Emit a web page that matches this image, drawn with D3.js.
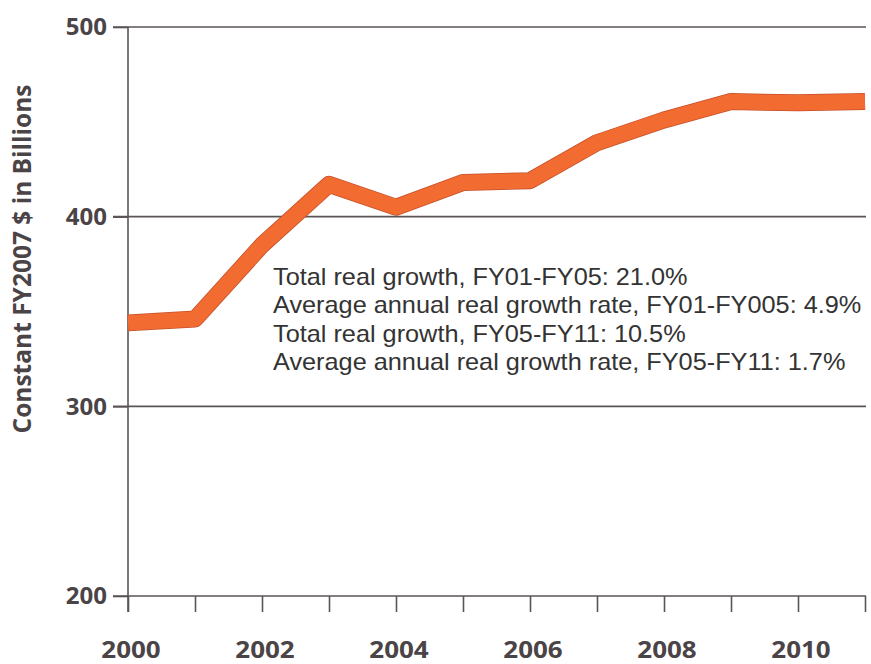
<!DOCTYPE html>
<html><head><meta charset="utf-8">
<script src="https://cdn.jsdelivr.net/npm/d3@7"></script>
<style>body{margin:0;background:#fff}svg{display:block}</style>
</head><body>
<svg id="c" width="871" height="664"></svg>
<script>
const years = [2000,2001,2002,2003,2004,2005,2006,2007,2008,2009,2010,2011];
const values = [344,346,385,417,405,418,419,439,451,460.7,460,460.7];
const yTicks = [200,300,400,500];
const gridTicks = [300,400,500];
const xLabels = [2000,2002,2004,2006,2008,2010];
const notes = [
  "Total real growth, FY01-FY05: 21.0%",
  "Average annual real growth rate, FY01-FY005: 4.9%",
  "Total real growth, FY05-FY11: 10.5%",
  "Average annual real growth rate, FY05-FY11: 1.7%"
];
const yTitle = "Constant FY2007 $ in Billions";

const svg = d3.select("#c");
const x = d3.scaleLinear().domain([2000,2011]).range([128,865]);
const y = d3.scaleLinear().domain([200,500]).range([596,27]);
const axisCol = "#5a5456", textCol = "#4b4447";

// gridlines
svg.append("g").selectAll("line").data(gridTicks).join("line")
  .attr("x1",113).attr("x2",866).attr("y1",d=>y(d)).attr("y2",d=>y(d))
  .attr("stroke",axisCol).attr("stroke-width",1.6);

// y axis
const ya = svg.append("g").attr("transform","translate(128,0)")
  .call(d3.axisLeft(y).tickValues(yTicks).tickSize(15).tickPadding(6));
ya.select(".domain").remove();
ya.selectAll(".tick line").attr("stroke",axisCol).attr("stroke-width",1.6);
ya.selectAll(".tick text").attr("fill",textCol)
  .style("font-family","'Open Sans'").style("font-weight","bold").style("font-size","24px");
svg.append("line").attr("x1",128).attr("x2",128).attr("y1",y(500)).attr("y2",612)
  .attr("stroke",axisCol).attr("stroke-width",1.6);

// x axis
const xa = svg.append("g").attr("transform","translate(0,"+y(200)+")")
  .call(d3.axisBottom(x).tickValues(years).tickSize(16).tickFormat(""));
xa.select(".domain").remove();
xa.selectAll(".tick line").attr("stroke",axisCol).attr("stroke-width",1.6);
svg.append("line").attr("x1",113).attr("x2",866).attr("y1",y(200)).attr("y2",y(200))
  .attr("stroke",axisCol).attr("stroke-width",1.6);
svg.append("g").selectAll("text").data(xLabels).join("text")
  .attr("transform",d=>"translate("+(x(d)+3)+",658) scale(1.13,1)")
  .attr("text-anchor","middle")
  .attr("fill",textCol).style("font-family","'Open Sans'").style("font-weight","bold").style("font-size","23px")
  .text(d=>d);

// y title
svg.append("text").attr("transform","translate(31,259) rotate(-90)").attr("text-anchor","middle")
  .attr("fill",textCol).style("font-family","'Open Sans'").style("font-weight","bold").style("font-size","24.5px")
  .text(yTitle);

// line
const line = d3.line().x((d,i)=>x(years[i])).y(d=>y(d));
svg.append("path").datum(values).attr("d",line).attr("fill","none")
  .attr("stroke","#c4502a").attr("stroke-width",17).attr("stroke-linejoin","round");
svg.append("path").datum(values).attr("d",line).attr("fill","none")
  .attr("stroke","#f26b30").attr("stroke-width",15.5).attr("stroke-linejoin","round");

// notes
svg.append("g").selectAll("text").data(notes).join("text")
  .attr("transform",(d,i)=>"translate(273,"+(285+i*28.3)+") scale(1.1,1)")
  .attr("fill","#333").style("font-family","'Liberation Sans'").style("font-size","23px")
  .text(d=>d);
</script>
</body></html>
